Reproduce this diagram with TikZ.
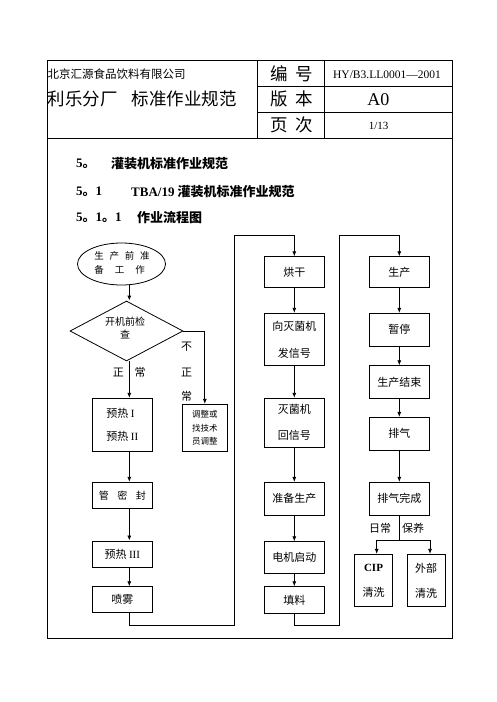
\documentclass[tikz,border=0pt]{standalone}
\usepackage{fontspec}
\setmainfont{Noto Sans CJK SC}
\newfontfamily\lat{Liberation Serif}
\usetikzlibrary{shapes.geometric,arrows.meta}
\begin{document}
\begin{tikzpicture}[x=1pt,y=-1pt,
  frame/.style={line width=1pt},
  box/.style={draw, line width=0.8pt, inner sep=0pt, align=center, minimum width=60pt, font=\fontsize{11}{26}\selectfont},
  arr/.style={line width=0.8pt, -{Latex[length=5pt,width=4pt]}},
  ln/.style={line width=0.8pt},
  lab/.style={inner sep=0pt, font=\fontsize{11}{13}\selectfont},
  hd/.style={inner sep=0pt, anchor=west, font=\bfseries\fontsize{13}{15}\selectfont},
  ht/.style={inner sep=0pt}]
\useasboundingbox (0,0) rectangle (496,702);
\fill[white] (0,0) rectangle (496,702);
% frame and header table
\draw[frame] (47.3,60.7) rectangle (452,638.3);
\draw[frame] (47.3,138.3) -- (452,138.3);
\draw[frame] (257.5,60.7) -- (257.5,138.3);
\draw[frame] (324.7,60.7) -- (324.7,138.3);
\draw[frame] (257.5,86.7) -- (452,86.7);
\draw[frame] (257.5,112.3) -- (452,112.3);
\node[ht, anchor=west, font=\fontsize{11.5}{12}\selectfont] (co) at (47.5,74.3) {北京汇源食品饮料有限公司};
\node[ht, anchor=west, font=\fontsize{17.5}{18}\selectfont] (ti) at (47.5,99.3) {利乐分厂\hspace{14pt}标准作业规范};
\node[ht, font=\fontsize{17.5}{18}\selectfont] (bh) at (292,74) {编\hspace{8pt}号};
\node[ht, font=\fontsize{17.5}{18}\selectfont] (bb) at (292,99.3) {版\hspace{8pt}本};
\node[ht, font=\fontsize{17.5}{18}\selectfont] (yc) at (292,125) {页\hspace{8pt}次};
\node[ht, font=\lat\fontsize{11.5}{12}\selectfont] (num) at (387,74.5) {HY/B3.LL0001—2001};
\node[ht, font=\lat\fontsize{18}{18}\selectfont] (ver) at (378.3,99.5) {A0};
\node[ht, font=\lat\fontsize{11}{12}\selectfont] (pg) at (378.7,126) {1/13};
% headings
\node[hd] (h1a) at (76,164) {{\lat 5}。};
\node[hd] (h1b) at (111,164) {灌装机标准作业规范};
\node[hd] (h2a) at (76,192) {{\lat 5}。{\lat 1}};
\node[hd] (h2b) at (131,192) {{\lat TBA/19} 灌装机标准作业规范};
\node[hd] (h3a) at (76,218) {{\lat 5}。{\lat 1}。{\lat 1}};
\node[hd] (h3b) at (137,218) {作业流程图};
% column coordinate
\coordinate (colA) at (129.3,0);
% column 1
\node[ellipse, draw, line width=0.8pt, minimum width=88pt, minimum height=42pt, inner sep=0pt] (ell) at (121.5,264) {};
\node[ht, align=left, font=\fontsize{9.5}{13.3}\selectfont] (ellt) at (122,263) {生\hspace{5.8pt}产\hspace{5.8pt}前\hspace{5.8pt}准\\备\hspace{11pt}工\hspace{11pt}作};
\node[diamond, draw, line width=0.8pt, minimum width=113pt, minimum height=60pt, inner sep=0pt] (dia) at (126.5,331) {};
\node[ht, align=center, font=\fontsize{10}{13}\selectfont] (diat) at (125,328) {开机前检\\查};
\node[box, align=left, minimum height=53.4pt, font=\fontsize{11}{23.3}\selectfont] (y12) at (122.3,425) {预热 {\lat I}\\预热 {\lat II}};
\node[box, minimum width=45.5pt, minimum height=47.4pt, font=\fontsize{8.5}{13.3}\selectfont] (adj) at (204.8,428) {调整或\\找技术\\员调整};
\node[box, minimum height=26pt, font=\fontsize{10}{12}\selectfont] (gms) at (122.3,495.3) {管\hspace{8.5pt}密\hspace{8.5pt}封};
\node[box, minimum height=26.7pt] (y3) at (122.3,554.3) {预热 {\lat III}};
\node[box, minimum height=26pt] (pw) at (122.3,599.7) {喷雾};
\node[lab] (z1) at (118.3,372.7) {正};
\node[lab] (z2) at (140,372.7) {常};
\node[lab] (b1l) at (186.7,346.7) {不};
\node[lab] (b2l) at (186.7,372.3) {正};
\node[lab] (b3l) at (186.7,396) {常};
\draw[arr] (ell.south -| colA) -- (dia.north -| colA);
\draw[arr] (dia.south -| colA) -- (y12.north -| colA);
\draw[arr] (dia.east) -| (adj.north);
\draw[arr] (y12.south -| colA) -- (gms.north -| colA);
\draw[arr] (gms.south -| colA) -- (y3.north -| colA);
\draw[arr] (y3.south -| colA) -- (pw.north -| colA);
% column 2
\node[box, minimum height=30.6pt] (hg) at (294.3,272) {烘干};
\node[box, minimum height=52.4pt, font=\fontsize{11}{26.7}\selectfont] (xm) at (294.3,339.5) {向灭菌机\\发信号};
\node[box, minimum height=48.7pt, font=\fontsize{11}{25.7}\selectfont] (mh) at (294.3,422.6) {灭菌机\\回信号};
\node[box, minimum height=32.7pt] (zb) at (294.3,498.7) {准备生产};
\node[box, minimum height=31.6pt] (dj) at (294.3,557.5) {电机启动};
\node[box, minimum height=26.6pt] (tl) at (294.3,600) {填料};
\draw[arr] (hg.south) -- (xm.north);
\draw[arr] (xm.south) -- (mh.north);
\draw[arr] (mh.south) -- (zb.north);
\draw[arr] (zb.south) -- (dj.north);
\draw[arr] (dj.south) -- (tl.north);
% column 3
\node[box, minimum height=30.6pt] (sc) at (399.3,272) {生产};
\node[box, minimum height=32.7pt] (zt) at (399.3,329.7) {暂停};
\node[box, minimum height=32.6pt] (js) at (399.3,382) {生产结束};
\node[box, minimum height=32.7pt] (pq) at (399.3,433.7) {排气};
\node[box, minimum height=32.7pt] (wc) at (399.3,498.7) {排气完成};
\node[box, minimum width=38.4pt, minimum height=52.4pt, font=\fontsize{11}{25}\selectfont] (cip) at (373.5,580.5) {{\lat\bfseries CIP}\\清洗};
\node[box, minimum width=37.7pt, minimum height=52.4pt, font=\fontsize{11}{25}\selectfont] (wb) at (426.2,580.5) {外部\\清洗};
\draw[arr] (sc.south) -- (zt.north);
\draw[arr] (zt.south) -- (js.north);
\draw[arr] (js.south) -- (pq.north);
\draw[arr] (pq.south) -- (wc.north);
\coordinate (br) at (399.3,540);
\coordinate (brL) at (376.7,540);
\coordinate (brR) at (430,540);
\draw[ln] (wc.south) -- (br);
\draw[ln] (brL) -- (brR);
\draw[arr] (brL) -- (brL |- cip.north);
\draw[arr] (brR) -- (brR |- wb.north);
\node[lab] (l1) at (380,528.3) {日常};
\node[lab] (l2) at (413,528.3) {保养};
% loop connectors
\coordinate (a1) at (234,625);
\coordinate (a2) at (234,235.7);
\draw[arr] (pw.south -| colA) |- (a1) -- (a2) -| (hg.north);
\coordinate (c1) at (339.3,625);
\coordinate (c2) at (339.3,235.7);
\draw[arr] (tl.south) |- (c1) -- (c2) -| (sc.north);
\end{tikzpicture}
\end{document}
